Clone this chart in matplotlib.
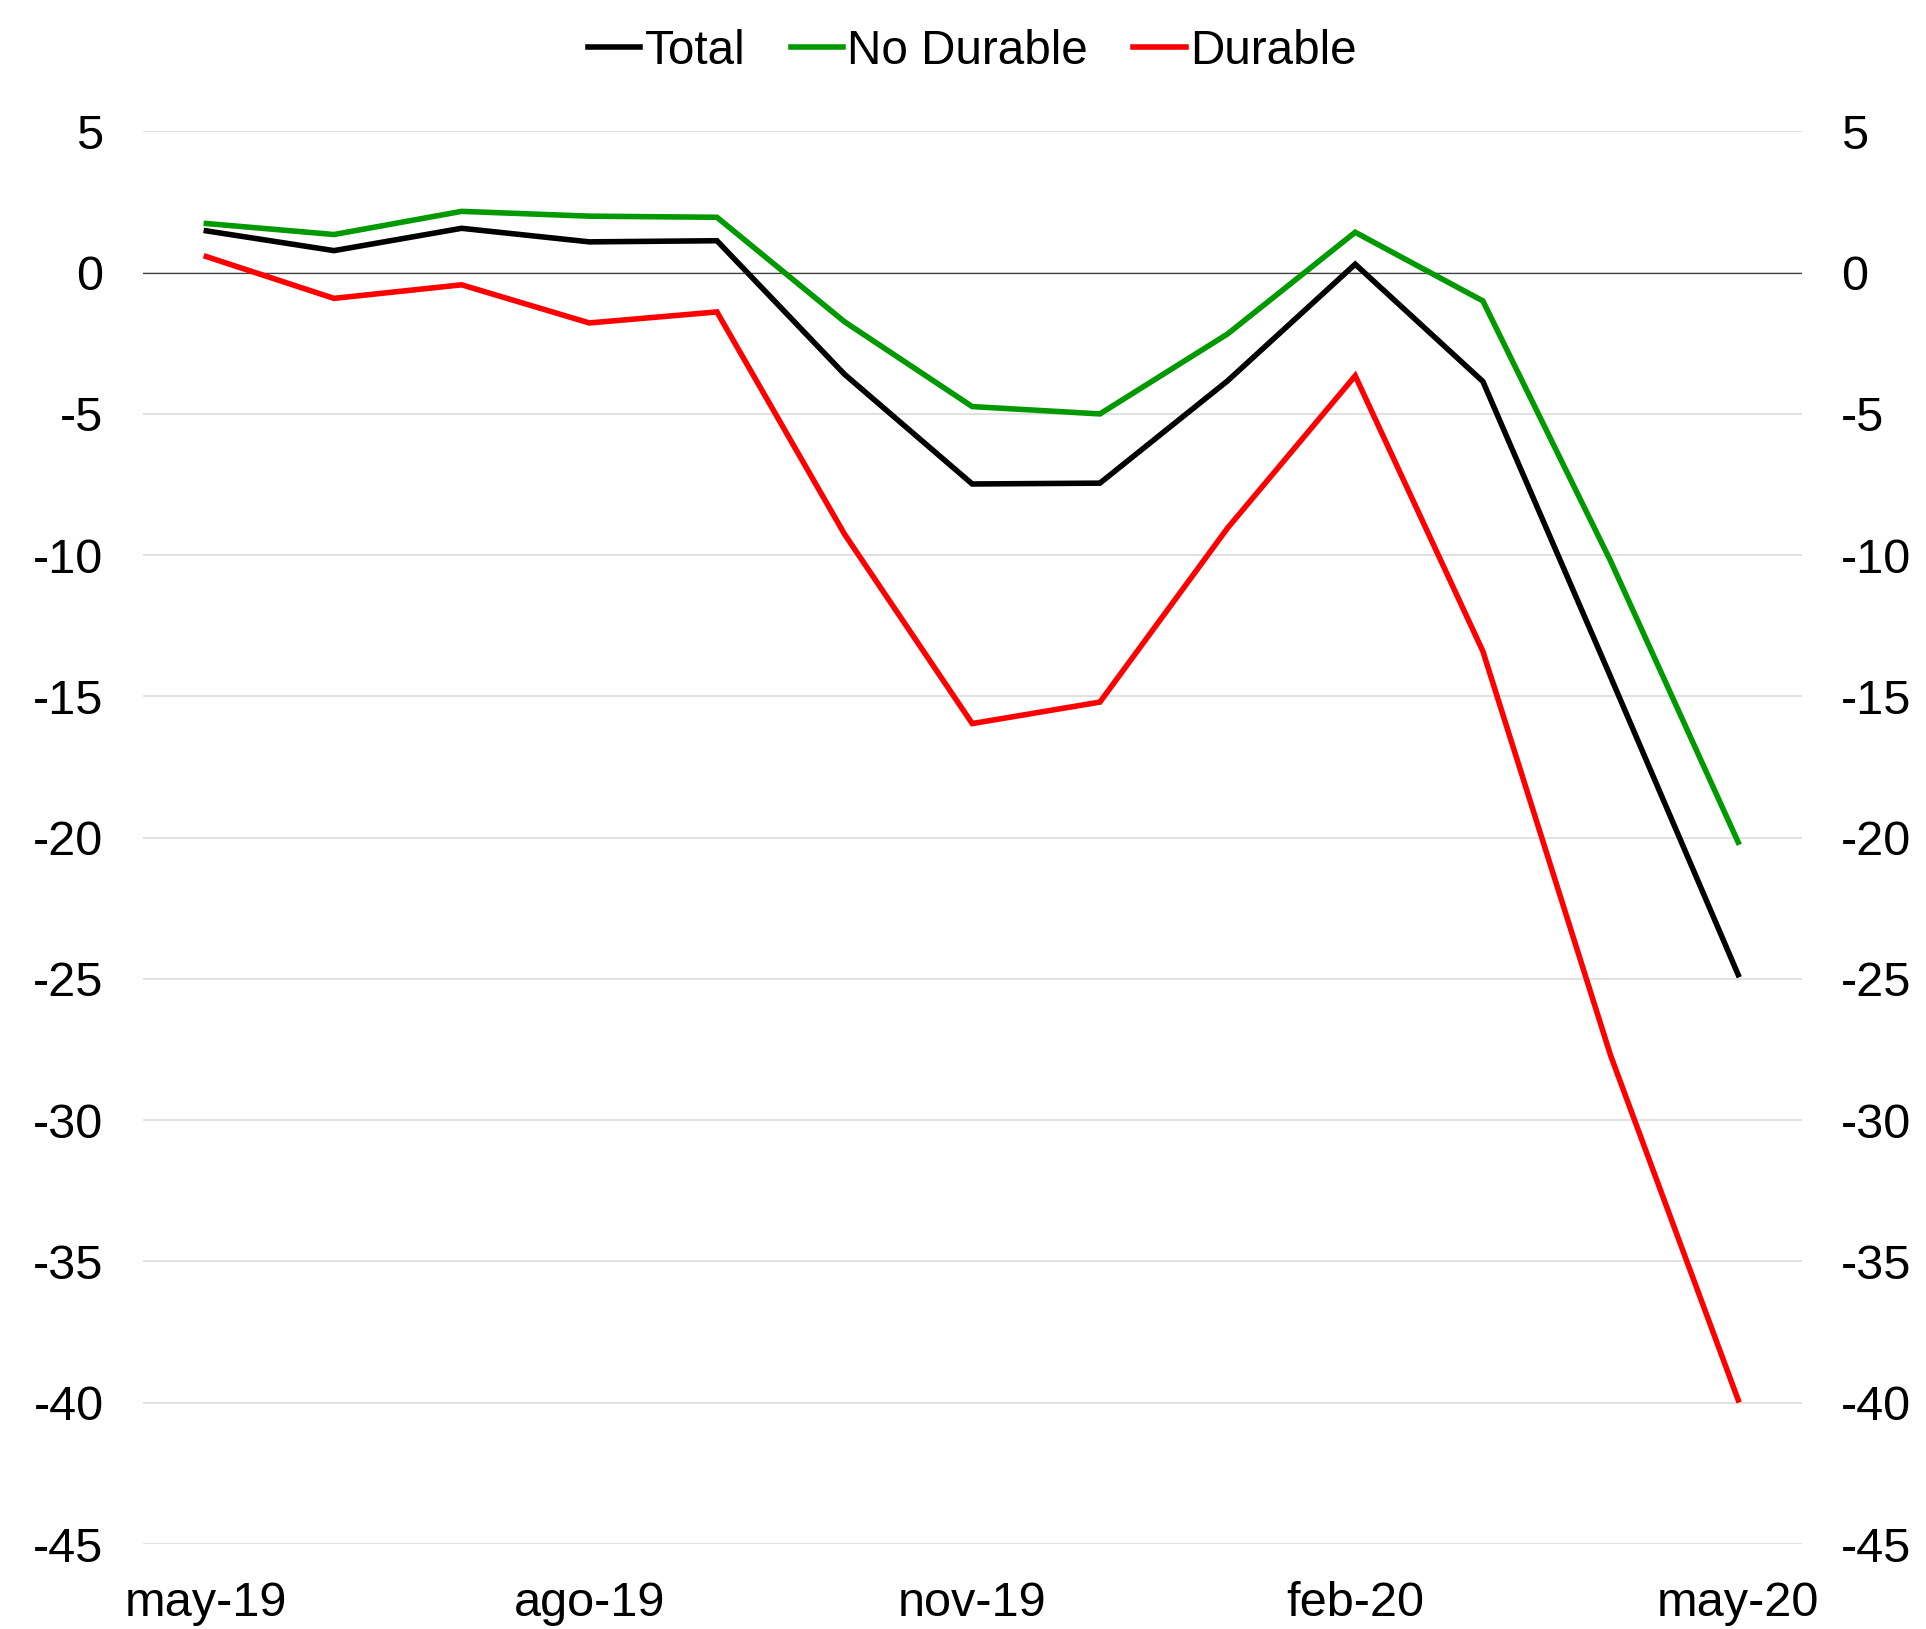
import matplotlib
matplotlib.use("Agg")
import matplotlib.pyplot as plt

plt.rcParams['font.family'] = ['Liberation Sans', 'DejaVu Sans']
plt.rcParams['axes.unicode_minus'] = False

months = ["may-19", "jun-19", "jul-19", "ago-19", "sep-19", "oct-19", "nov-19",
          "dic-19", "ene-20", "feb-20", "mar-20", "abr-20", "may-20"]
total = [1.48, 0.78, 1.57, 1.09, 1.13, -3.6, -7.48, -7.45, -3.83, 0.3, -3.85, -14.3, -24.85]
no_durable = [1.74, 1.35, 2.17, 2.0, 1.96, -1.74, -4.74, -5.0, -2.17, 1.43, -1.0, -10.2, -20.16]
durable = [0.57, -0.91, -0.43, -1.78, -1.39, -9.26, -15.96, -15.2, -9.04, -3.65, -13.4, -27.7, -39.9]

xtick_labels = ["may-19", "ago-19", "nov-19", "feb-20", "may-20"]
ytick_values = [5, 0, -5, -10, -15, -20, -25, -30, -35, -40, -45]
ytick_labels = ["5", "0", "-5", "-10", "-15", "-20", "-25", "-30", "-35", "-40", "-45"]

W, H = 1926, 1629
fig = plt.figure(figsize=(W / 100, H / 100), dpi=100)
left, right = 142.5 / W, 1802 / W
top, bottom = 1 - 131.4 / H, 1 - 1544 / H
ax = fig.add_axes([left, bottom, right - left, top - bottom])

x = list(range(len(months)))
lw = 4.0
ax.plot(x, total, color="#000000", lw=lw, label="Total", solid_joinstyle="miter", zorder=3)
ax.plot(x, no_durable, color="#009900", lw=lw, label="No Durable", solid_joinstyle="miter", zorder=3)
ax.plot(x, durable, color="#ff0000", lw=lw, label="Durable", solid_joinstyle="miter", zorder=3)

ax.axhline(0, color="#404040", lw=0.9, zorder=2)

ax.set_xlim(-0.5, len(months) - 0.5)
ax.set_ylim(-45, 5)
ax.set_yticks(ytick_values)
ax.set_yticklabels(ytick_labels)
ax.set_xticks([months.index(m) for m in xtick_labels])
ax.set_xticklabels(xtick_labels)

ax.grid(axis="y", color="#d9d9d9", lw=1.1, zorder=1)
ax.set_axisbelow(True)
for s in ax.spines.values():
    s.set_visible(False)

ax.tick_params(axis="y", length=0, labelsize=35, pad=28, labelright=True, right=False)
ax.tick_params(axis="x", length=0, labelsize=35, pad=27)

fig.legend(loc="center", bbox_to_anchor=((left + right) / 2, 1 - 51 / H),
           ncol=3, frameon=False, fontsize=34.3, handlelength=1.1,
           handletextpad=0.09, columnspacing=0.95, borderaxespad=0, borderpad=0)

fig.savefig("out.png", dpi=100)
